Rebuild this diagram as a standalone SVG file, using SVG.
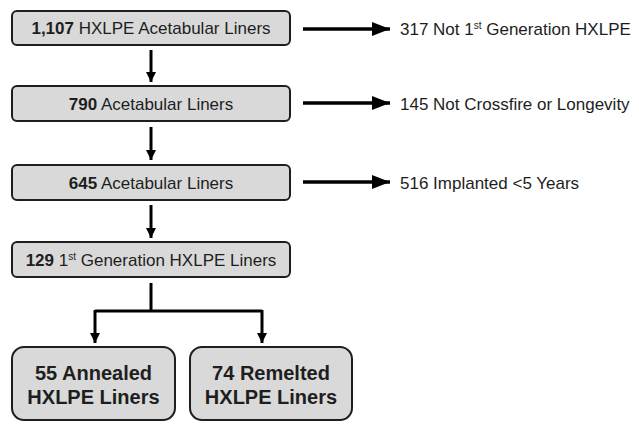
<svg xmlns="http://www.w3.org/2000/svg" width="639" height="424" viewBox="0 0 639 424">
<defs>
<style>
.box{fill:#d9d9d9;stroke:#1e1e1e;stroke-width:2}
.t{font-family:"Liberation Sans",Arial,sans-serif;font-size:17px;fill:#1e1e1e}
.tc{text-anchor:middle}
.b{font-weight:bold}
.big{font-family:"Liberation Sans",Arial,sans-serif;font-size:20px;font-weight:bold;fill:#1e1e1e;text-anchor:middle}
.ln{stroke:#000;stroke-width:3;fill:none}
.lh{stroke:#000;stroke-width:3.5;fill:none}
</style>
<marker id="ah" viewBox="0 0 10 10" refX="10" refY="5" markerWidth="10" markerHeight="10" markerUnits="userSpaceOnUse" orient="auto"><path d="M0,0 L10,5 L0,10 Z" fill="#000"/></marker>
<marker id="ahr" viewBox="0 0 18 14" refX="18" refY="7" markerWidth="18" markerHeight="14" markerUnits="userSpaceOnUse" orient="auto"><path d="M0,0 L18,7 L0,14 Z" fill="#000"/></marker>
</defs>
<g id="n1"><rect class="box" x="12" y="11" width="278" height="34" rx="5"/><text class="t tc" x="151" y="34"><tspan class="b">1,107</tspan> HXLPE Acetabular Liners</text></g>
<g id="n2"><rect class="box" x="12" y="86" width="278" height="35" rx="5"/><text class="t tc" x="151" y="110"><tspan class="b">790</tspan> Acetabular Liners</text></g>
<g id="n3"><rect class="box" x="12" y="165" width="278" height="35" rx="5"/><text class="t tc" x="151" y="189"><tspan class="b">645</tspan> Acetabular Liners</text></g>
<g id="n4"><rect class="box" x="12" y="242" width="278" height="35" rx="5"/><text class="t tc" x="151" y="266"><tspan class="b">129</tspan> 1<tspan font-size="10" dy="-6">st</tspan><tspan dy="6"> Generation HXLPE Liners</tspan></text></g>
<g id="n5"><rect class="box" x="12" y="347" width="163" height="73" rx="12"/><text class="big" x="93.5" y="380">55 Annealed</text><text class="big" x="93.5" y="404">HXLPE Liners</text></g>
<g id="n6"><rect class="box" x="190" y="347" width="162" height="73" rx="12"/><text class="big" x="271" y="380">74 Remelted</text><text class="big" x="271" y="404">HXLPE Liners</text></g>
<g id="x1"><text class="t" x="400" y="35">317 Not 1<tspan font-size="10" dy="-6">st</tspan><tspan dy="6"> Generation HXLPE</tspan></text></g>
<g id="x2"><text class="t" x="400" y="110">145 Not Crossfire or Longevity</text></g>
<g id="x3"><text class="t" x="400" y="189">516 Implanted &lt;5 Years</text></g>
<g id="connectors">
<line class="ln" x1="151" y1="50" x2="151" y2="82" marker-end="url(#ah)"/>
<line class="ln" x1="151" y1="127" x2="151" y2="160" marker-end="url(#ah)"/>
<line class="ln" x1="151" y1="205" x2="151" y2="238" marker-end="url(#ah)"/>
<path class="ln" d="M151,283 V311 M95,311 H262"/>
<line class="ln" x1="95" y1="310" x2="95" y2="343" marker-end="url(#ah)"/>
<line class="ln" x1="262" y1="310" x2="262" y2="343" marker-end="url(#ah)"/>
<line class="lh" x1="303" y1="29" x2="390" y2="29" marker-end="url(#ahr)"/>
<line class="lh" x1="303" y1="103" x2="390" y2="103" marker-end="url(#ahr)"/>
<line class="lh" x1="303" y1="182" x2="390" y2="182" marker-end="url(#ahr)"/>
</g>
</svg>
